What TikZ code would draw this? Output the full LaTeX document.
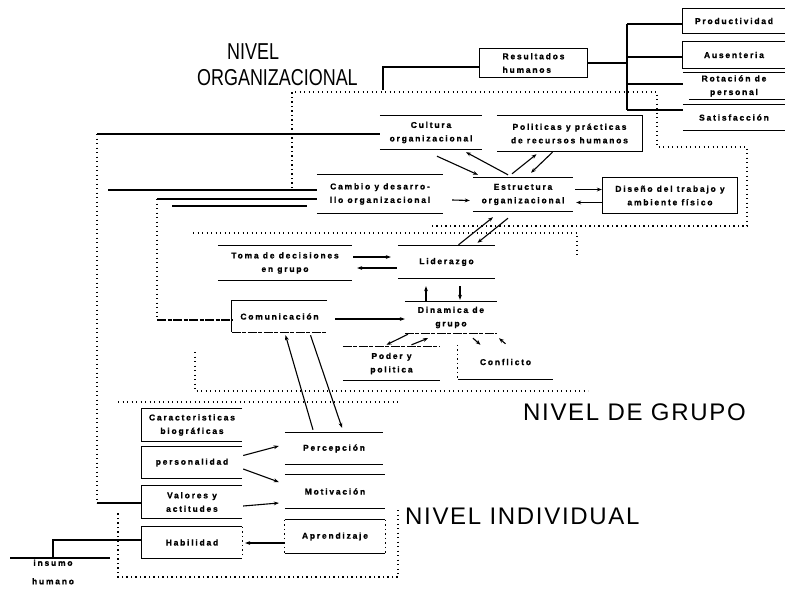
\documentclass[tikz,border=0pt]{standalone}
\usepackage{fontspec}
\usetikzlibrary{arrows.meta,calc}
\newfontfamily\lblfont[LetterSpace=21,FakeBold=1]{Liberation Sans Bold}
\newfontfamily\headnarrow[FakeStretch=0.78]{Liberation Sans}
\newfontfamily\headwide[LetterSpace=7]{Liberation Sans}
\begin{document}
\begin{tikzpicture}[x=1pt,y=-1pt,
  bx/.style={font=\lblfont\fontsize{8.5}{13.5}\selectfont, align=center, inner sep=0pt},
  heading/.style={font=\headwide\fontsize{24}{26}\selectfont, inner sep=0pt, anchor=west},
  headingN/.style={font=\headnarrow\fontsize{23}{26}\selectfont, inner sep=0pt, anchor=west},
  ln/.style={line width=1.1pt},
  rough/.style={line width=1.1pt, dash pattern=on 9pt off 1.5pt on 4pt off 1.5pt},
  dots/.style={line width=1.1pt, dash pattern=on 1.2pt off 3.3pt},
  arr/.style={line width=1.1pt, -{Stealth[length=5pt,width=3.8pt]}}]
\fill[white] (0,0) rectangle (785,590);
\useasboundingbox (0,0) rectangle (785,590);

% ---------- level headings ----------
\node[headingN] (hOrg1) at (227,52) {NIVEL};
\node[headingN] (hOrg2) at (197,78) {ORGANIZACIONAL};
\node[heading] (hGrp) at (523,412) {NIVEL DE GRUPO};
\node[heading] (hInd) at (405,516) {NIVEL INDIVIDUAL};

% ---------- human results ----------
\node[bx,minimum width=102,minimum height=24] (prod) at (734,21) {Productividad};
\node[bx,minimum width=102,minimum height=26] (ause) at (734,55) {Ausenteria};
\node[bx,minimum width=102,minimum height=26] (rot) at (734,86) {Rotación de\\personal};
\node[bx,minimum width=102,minimum height=25] (sat) at (734,117.5) {Satisfacción};
\node[bx,minimum width=107,minimum height=28,align=left] (res) at (533.5,63) {Resultados\\humanos};

\draw[ln] (prod.north east) -- (prod.north west) -- (prod.south west) -- (prod.south east);
\draw[ln] (ause.north east) -- (ause.north west) -- (ause.south west) -- (ause.south east);
\draw[ln] (rot.north west) -- (rot.north east);
\draw[ln] ([xshift=6]rot.south west) -- (rot.south east);
\draw[ln] (sat.north west) -- (sat.north east);
\draw[ln] (sat.south west) -- (sat.south east);
\draw[ln] (res.north west) rectangle (res.south east);

\coordinate (bt) at (627,24);
\coordinate (b2) at (627,57);
\coordinate (b3) at (627,84);
\coordinate (bb) at (627,110);
\coordinate (br) at (627,63);
\draw[ln] (bt) -- (bb);
\draw[ln] (bt) -- (prod.west |- bt);
\draw[ln] (b2) -- (ause.west |- b2);
\draw[ln] (b3) -- (rot.west |- b3);
\draw[ln] (bb) -- (sat.west |- bb);
\draw[ln] (res.east |- br) -- (br);

\coordinate (rl) at (383,67);
\coordinate (rl2) at (383,90);
\draw[ln] (rl2) -- (rl) -- (res.west |- rl);

% ---------- organisational level ----------
\node[bx,minimum width=102,minimum height=33] (cult) at (431,132.5) {Cultura\\organizacional};
\node[bx,minimum width=145,minimum height=35] (pol) at (569.5,133.5) {Politicas y prácticas\\de recursos humanos};
\node[bx,minimum width=126,minimum height=38] (camb) at (380,194) {Cambio y desarro-\\llo organizacional};
\node[bx,minimum width=100,minimum height=33] (estr) at (523,194.5) {Estructura\\organizacional};
\node[bx,minimum width=134,minimum height=35] (dis) at (670,195.5) {Diseño del trabajo y\\ambiente físico};

\draw[ln] (cult.north west) -- (cult.north east);
\draw[ln] (cult.south west) -- (cult.south east);
\draw[ln] (pol.north west) -- (pol.north east) -- (pol.south east) -- (pol.south west);
\draw[ln] (camb.north west) -- (camb.north east);
\draw[ln] (camb.south west) -- (camb.south east);
\draw[ln] (estr.north west) -- (estr.north east);
\draw[ln] (estr.south west) -- (estr.south east);
\draw[ln] (dis.north west) rectangle (dis.south east);

\draw[arr] ($(cult.south)+(6,7)$) -- ($(estr.north)+(-45,-3)$);
\draw[arr] ($(estr.north)+(-15,-3)$) -- ($(cult.south)+(35,3)$);
\draw[arr] ($(estr.north)+(-11,-4)$) -- ($(pol.south)+(-33,3)$);
\draw[arr] ($(pol.south)+(-17,1)$) -- ($(estr.north)+(8,-5)$);
\draw[arr] ($(camb.east)+(9,6)$) -- ($(estr.west)+(-3,6)$);
\draw[arr] ($(estr.east)+(2,-5)$) -- ($(dis.west)+(-1,-6)$);
\draw[arr] ($(dis.west)+(-1,7)$) -- ($(estr.east)+(3,8)$);

% ---------- group level ----------
\node[bx,minimum width=134,minimum height=34] (toma) at (285,263) {Toma de decisiones\\en grupo};
\node[bx,minimum width=97,minimum height=32] (lid) at (446.5,262) {Liderazgo};
\node[bx,minimum width=95,minimum height=31] (com) at (279.5,316.5) {Comunicación};
\node[bx,minimum width=92,minimum height=31] (din) at (451,317.5) {Dinamica de\\grupo};
\node[bx,minimum width=97,minimum height=33] (pod) at (391.5,363.5) {Poder y\\politica};
\node[bx,minimum width=95,minimum height=34] (conf) at (505.5,362) {Conflicto};

\draw[ln] (toma.north west) -- (toma.north east);
\draw[ln] (toma.south west) -- (toma.south east);
\draw[ln] (lid.north west) -- (lid.north east);
\draw[ln] (lid.south west) -- (lid.south east);
\draw[ln] (com.north east) -- (com.north west) -- (com.south west);
\draw[rough] (com.south west) -- (com.south east);
\draw[ln] (din.north west) -- (din.north east);
\draw[rough] (din.south west) -- (din.south east);
\draw[rough] (pod.north west) -- (pod.north east);
\draw[ln] (pod.south west) -- (pod.south east);
\draw[dots] (conf.north west) -- (conf.south west);
\draw[ln] (conf.south west) -- (conf.south east);

\draw[arr] ($(lid.north)+(12,-1)$) -- ($(estr.south)+(-30,6)$);
\draw[arr] ($(estr.south)+(-15,7)$) -- ($(lid.north)+(31,-3)$);
\draw[arr] ($(toma.east)+(1,-6)$) -- ($(lid.west)+(-7,-5)$);
\draw[arr] ($(lid.west)+(-1,6)$) -- ($(toma.east)+(5,5)$);
\draw[arr] ($(din.north)+(-25,0)$) -- ($(lid.south)+(-20.5,8)$);
\draw[arr] ($(lid.south)+(13.5,8)$) -- ($(din.north)+(9,-2)$);
\draw[arr] ($(com.east)+(8,2.5)$) -- ($(din.west)+(0,1.5)$);
\draw[arr] ($(din.south)+(-43,1)$) -- ($(pod.north)+(-5,-2)$);
\draw[arr] ($(pod.north)+(20,-2)$) -- ($(din.south)+(-23,5)$);
\draw[arr] ($(din.south)+(22,5)$) -- ($(conf.north)+(-25,0)$);
\draw[arr] ($(conf.north)+(0,-1)$) -- ($(din.south)+(48,5)$);

% ---------- individual level ----------
\node[bx,minimum width=100,minimum height=32] (car) at (192,425) {Caracteristicas\\biográficas};
\node[bx,minimum width=100,minimum height=31] (per) at (192,462.5) {personalidad};
\node[bx,minimum width=100,minimum height=32] (val) at (192,502) {Valores y\\actitudes};
\node[bx,minimum width=100,minimum height=31] (hab) at (192,542.5) {Habilidad};
\node[bx,minimum width=98,minimum height=31] (perc) at (334,448.5) {Percepción};
\node[bx,minimum width=100,minimum height=33] (mot) at (335,491.5) {Motivación};
\node[bx,minimum width=100,minimum height=33] (apr) at (335,536.5) {Aprendizaje};
\node[bx,align=center] (ins) at (53,572) {insumo\\[5pt]humano};

\foreach \b in {car,per,val,hab}{
  \draw[ln] (\b.north east) -- (\b.north west) -- (\b.south west) -- (\b.south east);
}
\draw[dots] (hab.north east) -- (hab.south east);
\foreach \b in {perc,mot,apr}{
  \draw[ln] (\b.north west) -- (\b.north east);
  \draw[ln] (\b.south west) -- (\b.south east);
}
\draw[dots] (apr.north west) -- (apr.south west);
\draw[dots] (apr.north east) -- (apr.south east);

\draw[arr] ($(perc.north)+(-21,-3)$) -- ($(com.south)+(6,3)$);
\draw[arr] ($(com.south)+(31,3)$) -- ($(perc.north)+(8,-5)$);
\draw[arr] ($(per.east)+(1,-7)$) -- ($(perc.west)+(-6,-2.5)$);
\draw[arr] ($(per.east)+(1,6.5)$) -- ($(mot.west)+(-6,-9.5)$);
\draw[arr] ($(val.east)+(1,4)$) -- ($(mot.west)+(-6,11.5)$);
\draw[arr] ($(apr.west)+(0,6.5)$) -- ($(hab.east)+(3,0.5)$);

% human input
\coordinate (i1) at (10,558);
\coordinate (i2) at (110,558);
\coordinate (i3) at (53,558);
\coordinate (i4) at (53,540);
\draw[ln] (i1) -- (i2);
\draw[ln] (i3) -- (i4) -- (hab.west |- i4);

% ---------- feedback lines on the left ----------
\coordinate (L1) at (97,134);
\coordinate (L5) at (97,503);
\draw[ln] (L1) -- (cult.west |- L1);
\draw[dots] (L1) -- (L5);
\draw[ln] (L5) -- (val.west |- L5);
\coordinate (L2) at (108,190);
\draw[ln] (L2) -- (camb.west |- L2);
\coordinate (L3a) at (157,199);
\coordinate (L3b) at (157,320);
\draw[ln] (camb.west |- L3a) -- (L3a);
\draw[dots] (L3a) -- (L3b);
\draw[rough] (L3b) -- (com.west |- L3b);
\coordinate (L4a) at (172,206);
\coordinate (L4b) at (307,206);
\draw[ln] (L4a) -- (L4b);

% ---------- level frames ----------
\draw[dots] (292,188) -- (292,92) -- (657,92) -- (657,147) -- (747,147) -- (747,226) -- (430,226);
\draw[dots] (193,233) -- (577,233) -- (577,258);
\draw[dots] (195,352) -- (195,391) -- (588,391);
\draw[dots] (118,402) -- (398,402);
\draw[dots] (398,510) -- (398,577) -- (118,577) -- (118,513);
\end{tikzpicture}
\end{document}
